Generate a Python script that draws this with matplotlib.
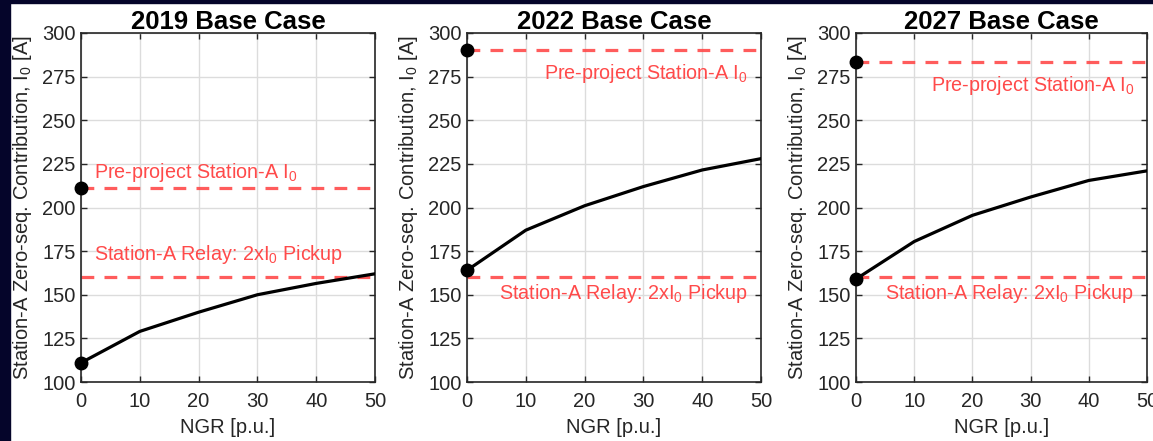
import numpy as np
import matplotlib
matplotlib.use('Agg')
from matplotlib import pyplot as plt
from matplotlib.patches import Rectangle

plt.rcParams['font.family'] = ['Liberation Sans', 'DejaVu Sans']
plt.rcParams['mathtext.fontset'] = 'custom'
plt.rcParams['mathtext.rm'] = 'Liberation Sans'
plt.rcParams['mathtext.it'] = 'Liberation Sans:italic'

# NGR sweep and Station-A zero-sequence contribution
ngr = [0, 10, 20, 30, 40, 50]
years = ['2019', '2022', '2027']
i0_2019 = [111, 129, 140, 150, 156.5, 162]
i0_2022 = [164, 187, 201, 212, 221.5, 228]
i0_2027 = [159, 180.5, 195.5, 206, 215.5, 221]
preproject = [211, 290.5, 283.5]
pickup = [160, 160, 160]

curves = [i0_2019, i0_2022, i0_2027]

W, H = 1153, 441
fig = plt.figure(figsize=(W/100, H/100), dpi=100)
fig.patch.set_facecolor('white')

# dark frame from the slide the chart was taken from
fig.patches.append(Rectangle((0, 0), 10/W, 1, transform=fig.transFigure,
                             color='#05052a', zorder=-1))
fig.patches.append(Rectangle((0, 1-3/H), 1, 3/H, transform=fig.transFigure,
                             color='#05052a', zorder=-1))

# axes boxes in pixels: left, width
boxes = [(81, 294), (467, 294), (856, 291)]
bottom, height = 59, 349

red = '#ff4a4a'
fs = 14.5
ylab = 'Station-A Zero-seq. Contribution, I$_\\mathregular{0}$ [A]'
pre_txt = 'Pre-project Station-A I$_\\mathregular{0}$'
pick_txt = 'Station-A Relay: 2xI$_\\mathregular{0}$ Pickup'

for k, (left, width) in enumerate(boxes):
    ax = fig.add_axes([left/W, bottom/H, width/W, height/H])
    ax.plot(ngr, curves[k], color='black', lw=2.3, zorder=3)
    ax.axhline(preproject[k], color=red, lw=2.3, ls=(0, (4, 3.2)), alpha=0.9, zorder=2)
    ax.axhline(pickup[k], color=red, lw=2.3, ls=(0, (4, 3.2)), alpha=0.9, zorder=2)
    ax.plot([ngr[0], ngr[0]], [curves[k][0], preproject[k]], 'o', color='black',
            ms=9, clip_on=False, zorder=4)

    if k == 0:
        ax.text(2.2, 220, pre_txt, color=red, fontsize=14.2, ha='left', va='center')
        ax.text(2.2, 173, pick_txt, color=red, fontsize=14.2, ha='left', va='center')
    else:
        ax.text(47.8, preproject[k] - 13.5, pre_txt, color=red, fontsize=14.2,
                ha='right', va='center')
        ax.text(47.8, 151, pick_txt, color=red, fontsize=14.2, ha='right', va='center')

    ax.set_xlim(0, 50)
    ax.set_ylim(100, 300)
    ax.set_xticks(np.arange(0, 51, 10))
    ax.set_yticks(np.arange(100, 301, 25))
    ax.grid(True, color='#dcdcdc', lw=1)
    ax.set_axisbelow(True)
    ax.tick_params(direction='in', top=True, right=True, length=4, width=1,
                   color='#262626', labelsize=fs, labelcolor='#262626')
    ax.tick_params(axis='x', pad=7)
    ax.tick_params(axis='y', pad=4)
    for s in ax.spines.values():
        s.set_color('#262626')
        s.set_linewidth(1.2)
    ax.set_title(years[k] + ' Base Case', fontsize=18.5, fontweight='bold', pad=3)
    ax.set_xlabel('NGR [p.u.]', fontsize=fs, color='#262626', labelpad=5)
    ax.set_ylabel(ylab, fontsize=fs, color='#262626')
    ax.yaxis.set_label_coords(-47/width, 0.5)

fig.savefig('out.png', dpi=100)
